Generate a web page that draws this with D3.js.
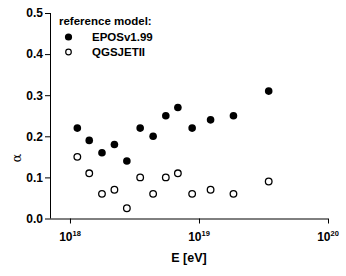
<!DOCTYPE html>
<html>
<head>
<meta charset="utf-8">
<script src="https://cdn.jsdelivr.net/npm/d3@7"></script>
<style>
  body { margin: 0; background: #fff; }
  svg text { font-family: "Liberation Sans", Arial, sans-serif; font-weight: bold; fill: #000; }
</style>
</head>
<body>
<svg id="chart" width="346" height="276"></svg>
<script>
// Data
const energies = [1.14e18, 1.41e18, 1.77e18, 2.21e18, 2.76e18, 3.5e18, 4.41e18,
                  5.53e18, 6.86e18, 8.85e18, 1.23e19, 1.85e19, 3.47e19];
const alphaEpos = [0.22, 0.19, 0.16, 0.18, 0.14, 0.22, 0.20, 0.25, 0.27, 0.22, 0.24, 0.25, 0.31];
const alphaQgsjet = [0.15, 0.11, 0.06, 0.07, 0.025, 0.10, 0.06, 0.10, 0.11, 0.06, 0.07, 0.06, 0.09];
const yTicks = [0.0, 0.1, 0.2, 0.3, 0.4, 0.5];
const xDecades = [18, 19, 20];
const legendTitle = 'reference model:';
const seriesNames = ['EPOSv1.99', 'QGSJETII'];

const svg = d3.select('#chart');

const x = d3.scaleLog().domain([7e17, 1e20]).range([50, 328]);
const y = d3.scaleLinear().domain([0, 0.5]).range([218.5, 13]);

// minor ticks for x: 2..9 x 10^n
const xMinor = [];
[17, 18, 19].forEach(function (d) {
  for (let k = 2; k <= 9; k++) {
    const v = k * Math.pow(10, d);
    if (v >= 7e17 && v < 1e20) xMinor.push(v);
  }
});
const xMajor = xDecades.map(d => Math.pow(10, d));

// x axis
const gx = svg.append('g').attr('transform', 'translate(0,218.5)');
gx.call(d3.axisBottom(x).tickValues(xMinor).tickSize(3).tickFormat(''));
gx.call(d3.axisBottom(x).tickValues(xMajor).tickSize(5).tickFormat(''));
gx.selectAll('path.domain').attr('d', 'M' + x.range()[0] + ',0.5H' + x.range()[1]);
gx.selectAll('line, path').attr('stroke', '#000').attr('stroke-width', 1);

// x tick labels with superscripts
xDecades.forEach(function (d) {
  const t = svg.append('text')
    .attr('x', x(Math.pow(10, d)))
    .attr('y', 241)
    .attr('text-anchor', 'middle')
    .attr('font-size', 12);
  t.append('tspan').text('10');
  t.append('tspan').attr('font-size', 7.5).attr('dy', -5).text(d);
});

// y axis
const gy = svg.append('g').attr('transform', 'translate(50,0)');
gy.call(d3.axisLeft(y).tickValues(d3.range(0.05, 0.5, 0.1)).tickSize(3).tickFormat(''));
gy.call(d3.axisLeft(y).tickValues(yTicks).tickSize(5).tickFormat(d3.format('.1f')));
gy.selectAll('path.domain').attr('d', 'M0.5,' + y(0) + 'V' + y(0.5));
gy.selectAll('line, path').attr('stroke', '#000').attr('stroke-width', 1);
gy.selectAll('text').attr('font-size', 12).attr('font-family', '"Liberation Sans", Arial, sans-serif')
  .attr('font-weight', 'bold').attr('x', -7);

// axis titles
svg.append('text')
  .attr('x', 189).attr('y', 262)
  .attr('text-anchor', 'middle')
  .attr('font-size', 12.5)
  .text('E [eV]');

svg.append('text')
  .attr('transform', 'translate(21,158) rotate(-90)')
  .attr('text-anchor', 'middle')
  .attr('font-size', 13)
  .style('font-weight', 'normal')
  .style('font-family', '"DejaVu Serif", serif')
  .text('α');

// points
svg.append('g').selectAll('circle')
  .data(energies)
  .join('circle')
  .attr('cx', d => x(d))
  .attr('cy', (d, i) => y(alphaEpos[i]))
  .attr('r', 3.8)
  .attr('fill', '#000');

svg.append('g').selectAll('circle')
  .data(energies)
  .join('circle')
  .attr('cx', d => x(d))
  .attr('cy', (d, i) => y(alphaQgsjet[i]))
  .attr('r', 3.3)
  .attr('fill', '#fff')
  .attr('stroke', '#000')
  .attr('stroke-width', 1.3);

// legend
const lg = svg.append('g');
lg.append('text').attr('x', 59).attr('y', 25).attr('font-size', 11.5).text(legendTitle);
lg.append('circle').attr('cx', 68.5).attr('cy', 37).attr('r', 3.6).attr('fill', '#000');
lg.append('circle').attr('cx', 68.5).attr('cy', 52).attr('r', 2.8)
  .attr('fill', '#fff').attr('stroke', '#000').attr('stroke-width', 1.2);
seriesNames.forEach(function (name, i) {
  lg.append('text').attr('x', 92).attr('y', 41 + i * 15).attr('font-size', 11.5).text(name);
});
</script>
</body>
</html>
